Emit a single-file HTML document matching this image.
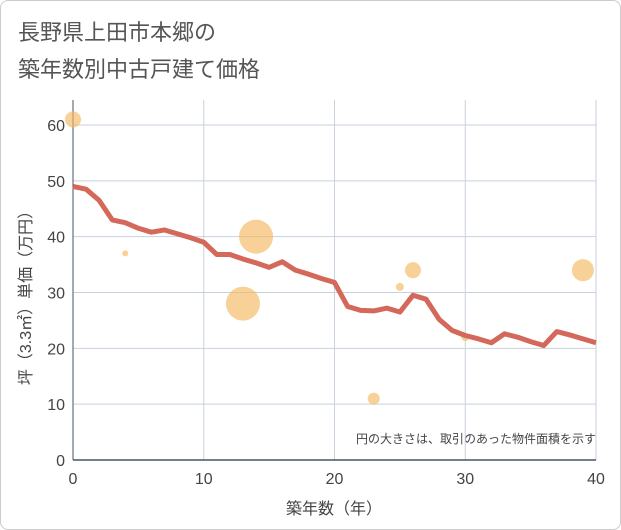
<!DOCTYPE html>
<html><head><meta charset="utf-8"><style>
body{margin:0;background:#fff;font-family:"Liberation Sans","Noto Sans CJK JP",sans-serif;}
#wrap{position:relative;width:621px;height:530px;overflow:hidden;}
#frame{position:absolute;left:0;top:0;width:619px;height:528px;border:1px solid #ccc;border-radius:8px;}
</style></head><body>
<div id="wrap">
<div id="frame"></div>
<svg id="chart" width="621" height="530" style="position:absolute;left:0;top:0">
<text x="18" y="40" font-size="22" fill="#555">長野県上田市本郷の</text>
<text x="18" y="77" font-size="22" fill="#555">築年数別中古戸建て価格</text>
<text x="596" y="443" font-size="12" fill="#444" text-anchor="end">円の大きさは、取引のあった物件面積を示す</text>
<text x="334" y="514" font-size="16" fill="#444" text-anchor="middle">築年数（年）</text>
<text transform="translate(31,294) rotate(-90)" font-size="16" fill="#444" text-anchor="middle">坪（3.3㎡）単価（万円）</text>
</svg>
</div>
<script>
const xTicks=[0,10,20,30,40];
const yTicks=[0,10,20,30,40,50,60];
const lineYears=[0,1,2,3,4,5,6,7,8,9,10,11,12,13,14,15,16,17,18,19,20,21,22,23,24,25,26,27,28,29,30,31,32,33,34,35,36,37,38,39,40];
const lineValues=[49,48.5,46.5,43,42.5,41.5,40.8,41.2,40.5,39.8,39,36.8,36.8,36,35.3,34.5,35.5,34,33.3,32.5,31.8,27.5,26.8,26.7,27.2,26.5,29.5,28.8,25.2,23.2,22.3,21.7,21,22.6,22,21.2,20.5,23,22.4,21.7,21];
const bubbleYears=[0,4,13,14,23,25,26,30,39];
const bubbleValues=[61,37,28,40,11,31,34,22,34];
const bubbleSizes=[8,3,17,17,6,4,8,4,11];
const NS="http://www.w3.org/2000/svg";
const svg=document.getElementById('chart');
const X0=73,X1=596,Y0=460,Y1=125;
const xs=v=>X0+(v-0)/(40)*(X1-X0);
const ys=v=>Y0-v/60*(Y0-Y1);
function mk(t,a){const e=document.createElementNS(NS,t);for(const k in a)e.setAttribute(k,a[k]);svg.appendChild(e);return e;}
const bg=mk('rect',{x:X0,y:100,width:X1-X0,height:Y0-100,fill:'none'});


xTicks.forEach(t=>{const l=mk('line',{x1:xs(t),x2:xs(t),y1:100,y2:Y0,stroke:'#c8d2de','stroke-width':1});


const tx=mk('text',{x:xs(t),y:Y0+24,'font-size':16,fill:'#444','text-anchor':'middle'});tx.textContent=t;

});
yTicks.forEach(t=>{const l=mk('line',{x1:X0,x2:X1,y1:ys(t),y2:ys(t),stroke:'#c8d2de','stroke-width':1});


const tx=mk('text',{x:X0-8,y:ys(t)+6,'font-size':16,fill:'#444','text-anchor':'end'});tx.textContent=t;

});
const ax=mk('line',{x1:X0,x2:X1,y1:Y0,y2:Y0,stroke:'#445566','stroke-width':1.5});


const ay=mk('line',{x1:X0,x2:X0,y1:100,y2:Y0,stroke:'#445566','stroke-width':1});


bubbleYears.forEach((b,i)=>{const c=mk('circle',{cx:xs(b),cy:ys(bubbleValues[i]),r:bubbleSizes[i],fill:'#f2b860','fill-opacity':0.65});

});
const p=mk('polyline',{points:lineYears.map((y,i)=>xs(y)+','+ys(lineValues[i])).join(' '),fill:'none',stroke:'#d4685a','stroke-width':5,'stroke-linejoin':'round'});


</script>
</body></html>
